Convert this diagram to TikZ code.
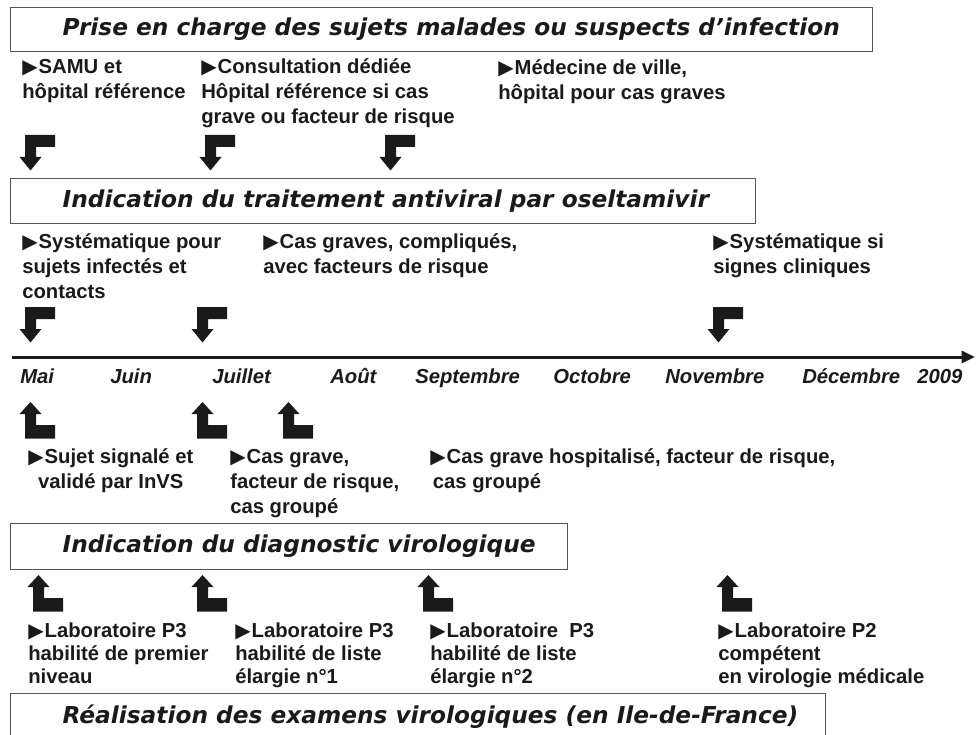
\documentclass[tikz,border=0pt]{standalone}
\usepackage{fontspec}
\setmainfont{Liberation Sans}
\newfontfamily\titlefont{DejaVu Sans}
\newfontfamily\trifont{DejaVu Sans}
\usetikzlibrary{arrows.meta}
\definecolor{ink}{HTML}{1A1A1A}
\definecolor{boxline}{HTML}{555555}
\newcommand\tri{{\trifont\fontsize{15pt}{15pt}\selectfont ▶}\kern0.8pt}
\begin{document}
\begin{tikzpicture}[x=0.75pt,y=-0.75pt,
  titlebox/.style={draw=boxline, line width=1pt, anchor=north west, inner sep=0pt,
    font=\titlefont\bfseries\itshape\fontsize{17.45pt}{20pt}\selectfont, text=ink},
  info/.style={anchor=base west, inner sep=0pt, align=left, text=ink,
    font=\bfseries\fontsize{15.2pt}{18.75pt}\selectfont},
  infoc/.style={info, align=center},
  infotight/.style={info, font=\bfseries\fontsize{15.2pt}{17.25pt}\selectfont},
  month/.style={anchor=base west, inner sep=0pt, text=ink,
    font=\bfseries\itshape\fontsize{15.2pt}{18pt}\selectfont},
  downarr/.pic={\fill[ink] (5,0) -- (35,0) -- (35,12) -- (16,12) -- (16,22) -- (21.5,22)
    -- (10.5,35.5) -- (-0.5,22) -- (5,22) -- cycle;},
  uparr/.pic={\fill[ink] (10.5,0) -- (21.5,12) -- (16,12) -- (16,23) -- (35,23)
    -- (35,36.5) -- (5,36.5) -- (5,12) -- (-0.5,12) -- cycle;},
]
\useasboundingbox (0,0) rectangle (976,735);

% title boxes
\node[titlebox, minimum width=646.5pt, minimum height=33pt] (b1) at (10,7)
  {\makebox[646.5pt][l]{\hspace{39pt}Prise en charge des sujets malades ou suspects d’infection}};
\node[titlebox, minimum width=558.75pt, minimum height=33.75pt] (b2) at (10,178)
  {\makebox[558.75pt][l]{\hspace{39pt}Indication du traitement antiviral par oseltamivir}};
\node[titlebox, minimum width=417.75pt, minimum height=34.5pt] (b3) at (10,523)
  {\makebox[417.75pt][l]{\hspace{39pt}Indication du diagnostic virologique}};
\node[titlebox, minimum width=611.25pt, minimum height=35.25pt] (b4) at (10,693)
  {\makebox[611.25pt][l]{\hspace{39pt}Réalisation des examens virologiques (en Ile-de-France)}};

% row 1 texts (anchor = baseline of last line)
\node[info] (t1a) at (22,99) {\tri SAMU et\\hôpital référence};
\node[info] (t1b) at (201,124) {\tri Consultation dédiée\\Hôpital référence si cas\\grave ou facteur de risque};
\node[info] (t1c) at (498,100) {\tri Médecine de ville,\\hôpital pour cas graves};
\pic (d1) at (20,135) {downarr};
\pic (d2) at (200,135) {downarr};
\pic (d3) at (380,135) {downarr};

% row 2 texts
\node[info] (t2a) at (22,298) {\tri Systématique pour\\sujets infectés et\\contacts};
\node[info] (t2b) at (263,273) {\tri Cas graves, compliqués,\\avec facteurs de risque};
\node[info] (t2c) at (713,273) {\tri Systématique si\\signes cliniques};
\pic (d4) at (20,307) {downarr};
\pic (d5) at (192,307) {downarr};
\pic (d6) at (708,307) {downarr};

% time axis
\coordinate (ax0) at (12,357);
\coordinate (ax1) at (975,357);
\draw[ink, line width=2.25pt, -{Triangle[length=10pt,width=9pt]}] (ax0) -- (ax1);
\node[month] (m1) at (20,383) {Mai};
\node[month] (m2) at (110,383) {Juin};
\node[month] (m3) at (212,383) {Juillet};
\node[month] (m4) at (330,383) {Août};
\node[month] (m5) at (415,383) {Septembre};
\node[month] (m6) at (553,383) {Octobre};
\node[month] (m7) at (665,383) {Novembre};
\node[month] (m8) at (802,383) {Décembre};
\node[month] (m9) at (917,383) {2009};

% row 3
\pic (u1) at (20,402) {uparr};
\pic (u2) at (192,402) {uparr};
\pic (u3) at (278,402) {uparr};
\node[infoc] (t3a) at (28,488) {\tri Sujet signalé et\\validé par InVS};
\node[info] (t3b) at (230,513) {\tri Cas grave,\\facteur de risque,\\cas groupé};
\node[info] (t3c) at (430,488) {\tri Cas grave hospitalisé, facteur de risque,\\\hspace{2pt}cas groupé};

% row 4
\pic (u4) at (28,575) {uparr};
\pic (u5) at (192,575) {uparr};
\pic (u6) at (418,575) {uparr};
\pic (u7) at (717,575) {uparr};
\node[infotight] (t4a) at (28,683) {\tri Laboratoire P3\\habilité de premier\\niveau};
\node[infotight] (t4b) at (235,683) {\tri Laboratoire P3\\habilité de liste\\élargie n°1};
\node[infotight] (t4c) at (430,683) {\tri Laboratoire\ \ P3\\habilité de liste\\élargie n°2};
\node[infotight] (t4d) at (718,683) {\tri Laboratoire P2\\compétent\\en virologie médicale};
\end{tikzpicture}
\end{document}
